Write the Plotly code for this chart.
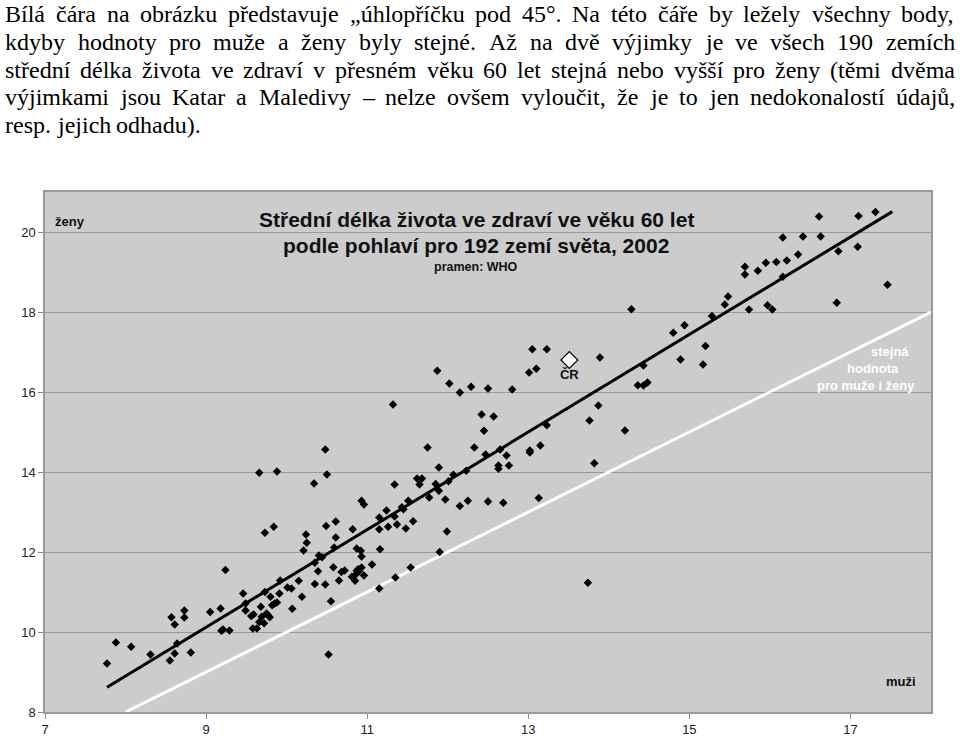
import unicodedata
import plotly.graph_objects as go

# ---------------- data (healthy life expectancy at age 60, 2002) ----------------
men = [7.77, 7.88, 8.07, 8.31, 8.55, 8.57, 8.61, 8.61, 8.64, 8.73, 8.73, 8.81, 9.05, 9.18, 9.19, 9.21, 9.24, 9.29,
       9.46, 9.49, 9.49, 9.56, 9.59, 9.58, 9.63, 9.66, 9.68, 9.69, 9.72, 9.73, 9.75, 9.77, 9.79, 9.80, 9.82, 9.85,
       9.88, 9.91, 9.92, 10.01, 10.06, 10.07, 10.15, 10.19, 9.66, 9.88, 9.73, 9.84,
       10.21, 10.24, 10.25, 10.34, 10.35, 10.35, 10.39, 10.40, 10.44, 10.48, 10.48, 10.49, 10.50, 10.52, 10.55,
       10.59, 10.58, 10.61, 10.61, 10.65, 10.68, 10.72, 10.81, 10.82, 10.85, 10.85, 10.87, 10.87, 10.89, 10.90,
       10.93, 10.92, 10.93, 10.96, 10.93, 10.96, 11.06, 11.15, 11.15, 11.16, 11.15, 11.24, 11.26, 11.32, 11.34,
       11.34, 11.35, 11.37,
       11.43, 11.45, 11.48, 11.51, 11.54, 11.57, 11.62, 11.68, 11.65, 11.75, 11.77, 11.85, 11.87, 11.89, 11.89,
       11.90, 11.97, 11.99, 12.01, 12.02, 12.07, 12.15, 12.15, 12.23, 12.25, 12.29, 12.33, 12.42, 12.45, 12.47,
       12.50, 12.50, 12.57, 12.63, 12.63, 12.65, 12.69,
       12.73, 12.76, 12.80, 13.02, 13.02, 13.01, 13.10, 13.05, 13.13, 13.15, 13.23, 13.23, 13.74, 13.76, 13.82,
       13.87, 13.89, 14.20, 14.28, 14.36, 14.43, 14.48, 14.43,
       14.80, 14.89, 14.94, 15.17, 15.20, 15.28, 15.44, 15.48, 15.69, 15.69, 15.74, 15.85, 15.95, 15.97, 16.03,
       16.08, 16.16, 16.16, 16.21, 16.35, 16.41, 16.61, 16.63, 16.83, 16.85, 17.09, 17.10, 17.31, 17.46]

women = [9.21, 9.74, 9.63, 9.44, 9.29, 10.37, 10.19, 9.46, 9.71, 10.54, 10.36, 9.49, 10.50, 10.59, 10.03, 10.06, 11.55, 10.04,
         10.96, 10.71, 10.54, 10.40, 10.44, 10.09, 10.09, 10.25, 10.63, 10.38, 10.22, 11.00, 10.46, 10.42, 10.37, 10.88,
         10.67, 10.71, 10.74, 10.96, 11.29, 11.11, 11.09, 10.58, 11.28, 10.88, 13.98, 14.01, 12.48, 12.63,
         12.04, 12.44, 12.23, 13.71, 11.73, 11.20, 11.52, 11.91, 11.87, 14.56, 11.19, 12.65, 13.94, 9.44, 10.77,
         12.11, 11.62, 12.76, 12.36, 11.29, 11.50, 11.54, 11.38, 12.57, 11.42, 11.28, 12.09, 11.53, 11.57, 11.52,
         11.61, 12.03, 13.28, 13.19, 11.89, 11.41, 11.69, 12.86, 12.57, 12.07, 11.09, 13.04, 12.63, 15.69, 13.69,
         12.89, 11.36, 12.69,
         13.12, 13.07, 12.59, 13.28, 11.61, 12.77, 13.84, 13.84, 13.69, 14.61, 13.36, 13.70, 16.53, 14.11, 13.53,
         12.00, 13.31, 12.51, 13.77, 16.21, 13.93, 15.99, 13.15, 14.03, 13.28, 16.13, 14.61, 15.44, 15.03, 14.44,
         16.09, 13.26, 15.39, 14.16, 14.08, 14.56, 13.23,
         14.41, 14.16, 16.06, 14.54, 14.49, 16.49, 16.58, 17.07, 13.35, 14.66, 17.07, 15.17, 11.23, 15.29, 14.22,
         15.66, 16.86, 15.04, 18.07, 16.17, 16.16, 16.24, 16.66,
         17.48, 16.81, 17.67, 16.69, 17.15, 17.90, 18.19, 18.39, 19.13, 18.94, 18.06, 19.03, 19.23, 18.17, 18.06,
         19.25, 18.88, 19.86, 19.29, 19.44, 19.89, 20.39, 19.89, 18.23, 19.52, 19.63, 20.40, 20.50, 18.68]

cz_men = [13.51]
cz_women = [16.80]
cz_label = "ČR"

# linear trend line as drawn in the original (end points)
trend_men = [7.77, 17.52]
trend_women = [8.62, 20.51]

# equal-value diagonal
equal_line = [8, 18]

x_ticks = [7, 9, 11, 13, 15, 17]
y_ticks = [8, 10, 12, 14, 16, 18, 20]
x_range = [7, 18]
y_range = [8, 21]

paragraph_lines = [
    "Bílá čára na obrázku představuje „úhlopříčku pod 45°. Na této čáře by ležely všechny body,",
    "kdyby hodnoty pro muže a ženy byly stejné. Až na dvě výjimky je ve všech 190 zemích",
    "střední délka života ve zdraví v přesném věku 60 let stejná nebo vyšší pro ženy (těmi dvěma",
    "výjimkami jsou Katar a Maledivy – nelze ovšem vyloučit, že je to jen nedokonalostí údajů,",
    "resp. jejich odhadu).",
]

# ---------------- geometry ----------------
W, H = 960, 738
ML, MR, MT, MB = 45, 29, 192, 26
PW, PH = W - ML - MR, H - MT - MB


def pxx(px):
    return (px - ML) / PW


def pxy(py):
    return (H - MB - py) / PH


# Times New Roman / Liberation Serif advance widths (1/1000 em)
TIMES = {' ': 250, ',': 250, '.': 250, '(': 333, ')': 333, ':': 278, '-': 333, '–': 500, '°': 400, '„': 444,
         'A': 722, 'B': 667, 'K': 722, 'M': 889, 'N': 722,
         'a': 444, 'b': 500, 'c': 444, 'd': 500, 'e': 444, 'f': 333, 'g': 500, 'h': 500, 'i': 278, 'j': 278,
         'k': 500, 'l': 278, 'm': 778, 'n': 500, 'o': 500, 'p': 500, 'q': 500, 'r': 333, 's': 389, 't': 278,
         'u': 500, 'v': 500, 'w': 722, 'x': 500, 'y': 500, 'z': 444}
for d in '0123456789':
    TIMES[d] = 500


def tw(word, size):
    total = 0
    for ch in word:
        base = unicodedata.normalize('NFD', ch)[0]
        total += TIMES.get(ch, TIMES.get(base, 500))
    return total / 1000 * size


fig = go.Figure()

fig.add_trace(go.Scatter(x=equal_line, y=equal_line, mode='lines',
                         line=dict(color='white', width=3), hoverinfo='skip', showlegend=False))

fig.add_trace(go.Scatter(x=trend_men, y=trend_women, mode='lines',
                         line=dict(color='black', width=3), hoverinfo='skip', showlegend=False))

fig.add_trace(go.Scatter(x=men, y=women, mode='markers',
                         marker=dict(symbol='diamond', size=6.5, color='black'), showlegend=False))

fig.add_trace(go.Scatter(x=cz_men, y=cz_women, mode='markers+text', text=['<b>' + cz_label + '</b>'],
                         textposition='bottom center',
                         textfont=dict(family='Liberation Sans, Arial', size=13, color='#111'),
                         marker=dict(symbol='diamond', size=13, color='white', line=dict(color='black', width=1.2)),
                         showlegend=False))

ann = []
bold = 'Liberation Sans, Arial'
ann.append(dict(x=pxx(53), y=pxy(221), xref='paper', yref='paper', text='<b>ženy</b>', showarrow=False,
                xanchor='left', yanchor='middle', font=dict(family=bold, size=13, color='#111')))
ann.append(dict(x=pxx(918), y=pxy(681), xref='paper', yref='paper', text='<b>muži</b>', showarrow=False,
                xanchor='right', yanchor='middle', font=dict(family=bold, size=13, color='#111')))
ann.append(dict(x=pxx(476), y=pxy(219), xref='paper', yref='paper',
                text='<b>Střední délka života ve zdraví ve věku 60 let</b>', showarrow=False,
                xanchor='center', yanchor='middle', font=dict(family=bold, size=21, color='#111')))
ann.append(dict(x=pxx(476), y=pxy(246), xref='paper', yref='paper',
                text='<b>podle pohlaví pro 192 zemí světa, 2002</b>', showarrow=False,
                xanchor='center', yanchor='middle', font=dict(family=bold, size=21, color='#111')))
ann.append(dict(x=pxx(476), y=pxy(267), xref='paper', yref='paper', text='<b>pramen: WHO</b>', showarrow=False,
                xanchor='center', yanchor='middle', font=dict(family=bold, size=12.5, color='#111')))
for txt, cx, cy in [('stejná', 890, 351), ('hodnota', 873, 368), ('pro muže i ženy', 866, 385)]:
    ann.append(dict(x=pxx(cx), y=pxy(cy), xref='paper', yref='paper', text='<b>' + txt + '</b>', showarrow=False,
                    xanchor='center', yanchor='middle', font=dict(family=bold, size=13, color='white')))

# justified paragraph (one annotation per word)
FS = 24
left, right = 5, 955
line_y = [14, 42, 70, 97, 125]
for i, line in enumerate(paragraph_lines):
    words = line.split(' ')
    widths = [tw(w, FS) for w in words]
    justify = i < len(paragraph_lines) - 1
    gap = (right - left - sum(widths)) / (len(words) - 1) if justify else tw(' ', FS)
    x = left
    for w, wd in zip(words, widths):
        ann.append(dict(x=pxx(x), y=pxy(line_y[i]), xref='paper', yref='paper', text=w, showarrow=False,
                        xanchor='left', yanchor='middle', borderpad=0, borderwidth=0,
                        font=dict(family='Liberation Serif, Times New Roman', size=FS, color='black')))
        x += wd + gap

axis_font = dict(family='Liberation Sans, Arial', size=13, color='#222')
fig.update_layout(
    width=W, height=H,
    margin=dict(l=ML, r=MR, t=MT, b=MB, pad=0, autoexpand=False),
    paper_bgcolor='white', plot_bgcolor='#cccccc',
    showlegend=False,
    annotations=ann,
    xaxis=dict(range=x_range, tickvals=x_ticks, ticks='outside', ticklen=5, tickcolor='#888',
               automargin=False,
               showgrid=False, zeroline=False, showline=True, linecolor='#999', linewidth=1.5, mirror=True,
               tickfont=axis_font),
    yaxis=dict(range=y_range, tickvals=y_ticks, ticks='outside', ticklen=5, tickcolor='#888',
               automargin=False,
               showgrid=True, gridcolor='#9a9a9a', gridwidth=1, zeroline=False, showline=True,
               linecolor='#999', linewidth=1.5, mirror=True, tickfont=axis_font),
)

fig.write_html("out.html", config={'displayModeBar': False},
               post_script="document.body.style.margin='0';document.body.style.overflow='hidden';")
